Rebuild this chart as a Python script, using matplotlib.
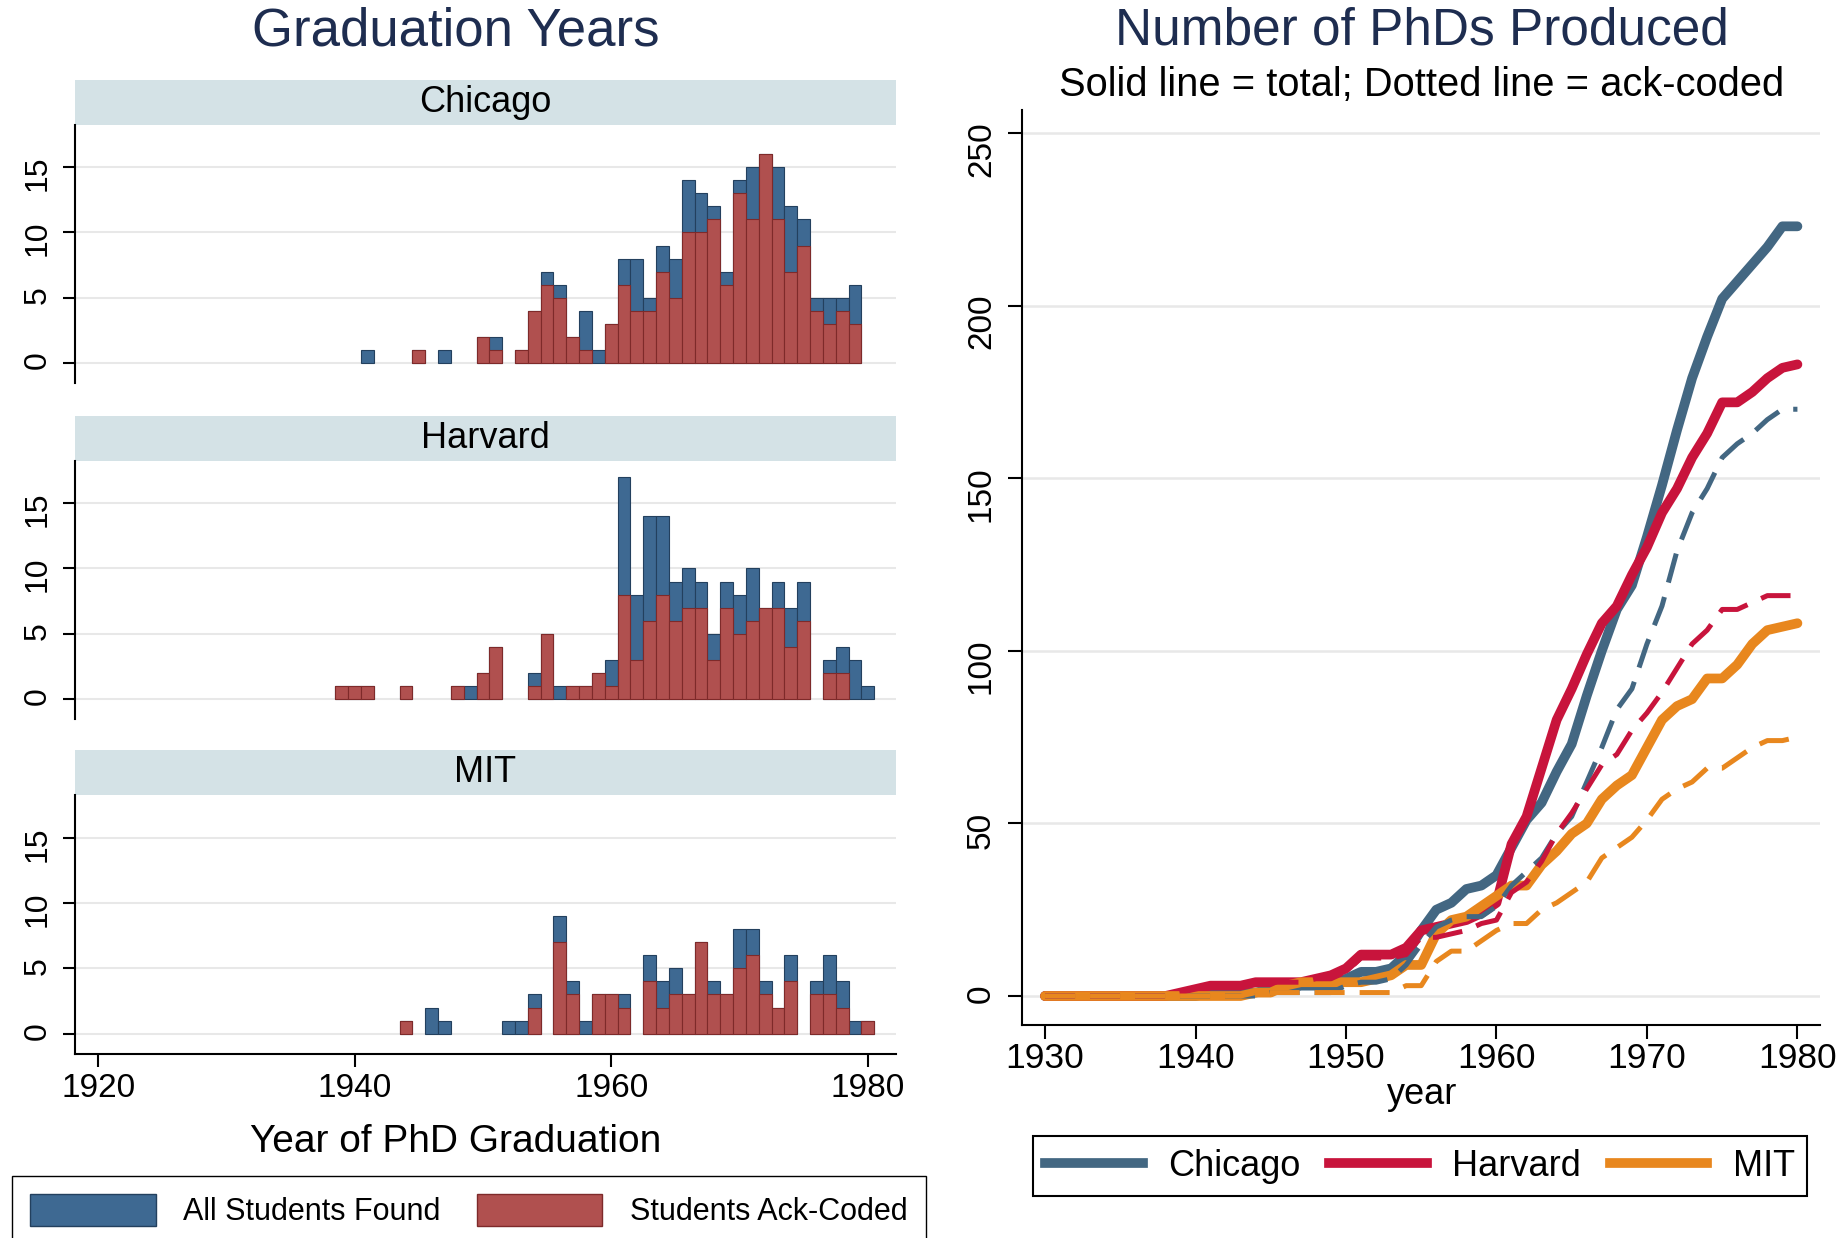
import numpy as np
import matplotlib
matplotlib.use("Agg")
import matplotlib.pyplot as plt
from matplotlib.patches import Rectangle, Patch
from matplotlib.lines import Line2D

plt.rcParams['font.family'] = ['Liberation Sans', 'DejaVu Sans']

# PhD counts per graduation year, 1930..1980
years = np.arange(1930, 1981)

chicago_all = [0, 0, 0, 0, 0, 0, 0, 0, 0, 0,
               0, 1, 0, 0, 0, 1, 0, 1, 0, 0,
               2, 2, 0, 1, 4, 7, 6, 2, 4, 1,
               3, 8, 8, 5, 9, 8, 14, 13, 12, 7,
               14, 15, 16, 15, 12, 11, 5, 5, 5, 6,
               0]
chicago_ack = [0, 0, 0, 0, 0, 0, 0, 0, 0, 0,
               0, 0, 0, 0, 0, 1, 0, 0, 0, 0,
               2, 1, 0, 1, 4, 6, 5, 2, 1, 0,
               3, 6, 4, 4, 7, 5, 10, 10, 11, 6,
               13, 11, 16, 11, 7, 9, 4, 3, 4, 3,
               0]
harvard_all = [0, 0, 0, 0, 0, 0, 0, 0, 0, 1,
               1, 1, 0, 0, 1, 0, 0, 0, 1, 1,
               2, 4, 0, 0, 2, 5, 1, 1, 1, 2,
               3, 17, 8, 14, 14, 9, 10, 9, 5, 9,
               8, 10, 7, 9, 7, 9, 0, 3, 4, 3,
               1]
harvard_ack = [0, 0, 0, 0, 0, 0, 0, 0, 0, 1,
               1, 1, 0, 0, 1, 0, 0, 0, 1, 0,
               2, 4, 0, 0, 1, 5, 0, 1, 1, 2,
               1, 8, 3, 6, 8, 6, 7, 7, 3, 7,
               5, 6, 7, 7, 4, 6, 0, 2, 2, 0,
               0]
mit_all = [0, 0, 0, 0, 0, 0, 0, 0, 0, 0,
           0, 0, 0, 0, 1, 0, 2, 1, 0, 0,
           0, 0, 1, 1, 3, 0, 9, 4, 1, 3,
           3, 3, 0, 6, 4, 5, 3, 7, 4, 3,
           8, 8, 4, 2, 6, 0, 4, 6, 4, 1,
           1]
mit_ack = [0, 0, 0, 0, 0, 0, 0, 0, 0, 0,
           0, 0, 0, 0, 1, 0, 0, 0, 0, 0,
           0, 0, 0, 0, 2, 0, 7, 3, 0, 3,
           3, 2, 0, 4, 2, 3, 3, 7, 3, 3,
           5, 6, 3, 2, 4, 0, 3, 3, 2, 0,
           1]

schools = ["Chicago", "Harvard", "MIT"]
all_counts = [chicago_all, harvard_all, mit_all]
ack_counts = [chicago_ack, harvard_ack, mit_ack]

BLUE, BLUE_EDGE = "#3e6992", "#23405e"
RED, RED_EDGE = "#b0504f", "#7e2a2a"
STRIP = "#d4e2e6"
GRID = "#e8e8e8"
TITLE = "#1e2d50"
LINE_COLORS = ["#436782", "#c8143c", "#e8871e"]

W, H = 1847, 1238
fig = plt.figure(figsize=(W / 100, H / 100), dpi=100)


def fbox(left, top, right, bottom):
    return [left / W, 1 - bottom / H, (right - left) / W, (bottom - top) / H]


# ---- left: histograms
panels = [(125, 383), (461, 719), (795, 1054)]
strip_h = 45
for i, (top, bottom) in enumerate(panels):
    ax = fig.add_axes(fbox(75, top, 896, bottom))
    a = np.array(all_counts[i])
    k = np.array(ack_counts[i])
    ax.bar(years[a > 0], a[a > 0], width=1, color=BLUE, edgecolor=BLUE_EDGE, lw=0.8, zorder=2)
    ax.bar(years[k > 0], k[k > 0], width=1, color=RED, edgecolor=RED_EDGE, lw=0.8, zorder=3)
    ax.set_xlim(1918.2, 1982.2)
    ax.set_ylim(-1.55, 18.25)
    ax.set_yticks([0, 5, 10, 15])
    ax.yaxis.grid(True, color=GRID, lw=1.5)
    ax.set_axisbelow(True)
    ax.tick_params(axis='y', labelrotation=90, labelsize=23, length=9, width=1.5, pad=7)
    for s in ["top", "right"]:
        ax.spines[s].set_visible(False)
    ax.spines["left"].set_linewidth(1.5)
    if i < 2:
        ax.spines["bottom"].set_visible(False)
        ax.set_xticks([])
    else:
        ax.spines["bottom"].set_linewidth(1.5)
        ax.set_xticks([1920, 1940, 1960, 1980])
        ax.tick_params(axis='x', labelsize=24, length=9, width=1.5, pad=5)
    h = strip_h / (bottom - top)
    ax.add_patch(Rectangle((0, 1), 1, h, transform=ax.transAxes, clip_on=False,
                           facecolor=STRIP, lw=0))
    ax.text(0.5, 1 + h / 2, schools[i], transform=ax.transAxes, ha="center",
            va="center", fontsize=26)

fig.text(456 / W, 1 - 31 / H, "Graduation Years", ha="center", va="center",
         fontsize=38, color=TITLE)
fig.text(456 / W, 1 - 1142 / H, "Year of PhD Graduation", ha="center", va="center",
         fontsize=28)

fig.legend([Patch(facecolor=BLUE, edgecolor=BLUE_EDGE), Patch(facecolor=RED, edgecolor=RED_EDGE)],
           ["All Students Found", "Students Ack-Coded"],
           loc="upper left", bbox_to_anchor=(12 / W, 1 - 1176 / H), ncol=2, fontsize=22,
           handlelength=4.1, handleheight=1.2, handletextpad=0.9, columnspacing=1.2,
           borderpad=0.6, borderaxespad=0, fancybox=False, edgecolor="black", framealpha=1)

# ---- right: cumulative counts
ax2 = fig.add_axes(fbox(1022, 110, 1820, 1025))
for i, name in enumerate(schools):
    ax2.plot(years, np.cumsum(all_counts[i]), color=LINE_COLORS[i], lw=7,
             solid_joinstyle="round", solid_capstyle="round", zorder=3)
for i, name in enumerate(schools):
    ax2.plot(years, np.cumsum(ack_counts[i]), color=LINE_COLORS[i], lw=3.6,
             ls=(0, (6, 3)), zorder=4)

ax2.set_xlim(1928.47, 1981.5)
ax2.set_ylim(-8.4, 256.7)
ax2.set_yticks([0, 50, 100, 150, 200, 250])
ax2.set_xticks([1930, 1940, 1950, 1960, 1970, 1980])
ax2.yaxis.grid(True, color=GRID, lw=1.8)
ax2.set_axisbelow(True)
ax2.tick_params(axis='y', labelrotation=90, labelsize=24, length=10, width=1.5, pad=8)
ax2.tick_params(axis='x', labelsize=25.5, length=10, width=1.5, pad=2)
for s in ["top", "right"]:
    ax2.spines[s].set_visible(False)
for s in ["left", "bottom"]:
    ax2.spines[s].set_linewidth(1.5)

fig.text(1422 / W, 1 - 31 / H, "Number of PhDs Produced", ha="center", va="center",
         fontsize=37, color=TITLE)
fig.text(1422 / W, 1 - 85 / H, "Solid line = total; Dotted line = ack-coded",
         ha="center", va="center", fontsize=28.7)
fig.text(1422 / W, 1 - 1095 / H, "year", ha="center", va="center", fontsize=26)

leg = ax2.legend([Line2D([], [], color=c, lw=7) for c in LINE_COLORS], schools,
                 loc="center", bbox_to_anchor=(1420 / W, 1 - 1166 / H),
                 bbox_transform=fig.transFigure, ncol=3, fontsize=26,
                 handlelength=2.7, handletextpad=0.7, columnspacing=0.8,
                 borderpad=0.35, fancybox=False, edgecolor="black", framealpha=1)
leg.get_frame().set_linewidth(1.5)

fig.savefig("out.png", dpi=100, facecolor="white")
